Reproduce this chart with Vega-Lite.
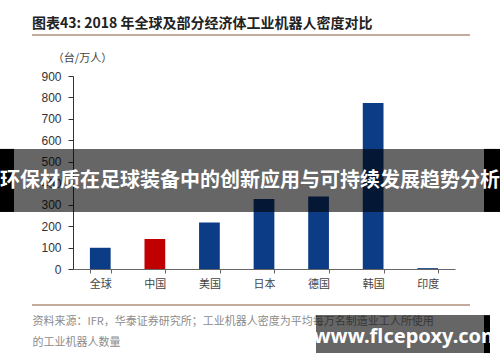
{
  "$schema": "https://vega.github.io/schema/vega-lite/v6.json",
  "autosize": "none",
  "width": 382,
  "height": 193,
  "padding": {"left": 73, "top": 76, "right": 45, "bottom": 93},
  "background": "white",
  "config": {"view": {"stroke": null}},
  "resolve": {"axis": {"y": "independent"}},
  "title": {
    "text": "图表43:   2018 年全球及部分经济体工业机器人密度对比",
    "anchor": "start",
    "frame": "group",
    "dx": -41,
    "offset": 3,
    "font": "Noto Sans CJK SC",
    "fontSize": 14,
    "fontWeight": "bold",
    "color": "#222222"
  },
  "layer": [
    {
      "data": {"values": [
        {"region": "全球", "density": 99},
        {"region": "中国", "density": 140},
        {"region": "美国", "density": 217},
        {"region": "日本", "density": 327},
        {"region": "德国", "density": 338},
        {"region": "韩国", "density": 774},
        {"region": "印度", "density": 4}
      ]},
      "mark": {"type": "bar"},
      "encoding": {
        "x": {
          "field": "region", "type": "nominal", "sort": null,
          "scale": {"paddingInner": 0.62, "paddingOuter": 0.31},
          "axis": {
            "title": ["资料来源：IFR，华泰证券研究所；工业机器人密度为平均每万名制造业工人所使用", "的工业机器人数量"],
            "titleX": -41, "titleY": 52, "titleAlign": "left", "titleBaseline": "middle",
            "titleAnchor": null,
            "titleFont": "Noto Sans CJK SC", "titleFontSize": 11, "titleFontWeight": "normal",
            "titleColor": "#8c8c8c", "titleLineHeight": 21,
            "labelAngle": 0, "labelFont": "Noto Sans CJK SC", "labelFontSize": 11,
            "labelColor": "#444444", "labelPadding": 5,
            "tickBand": "extent", "tickSize": 4, "tickColor": "#666666",
            "domainColor": "#666666", "grid": false
          }
        },
        "y": {
          "field": "density", "type": "quantitative",
          "scale": {"domain": [0, 900], "nice": false},
          "axis": {
            "title": "（台/万人）", "titleAngle": 0, "titleX": 9, "titleY": -18,
            "titleAlign": "center", "titleBaseline": "middle",
            "titleFont": "Noto Sans CJK SC", "titleFontSize": 11, "titleFontWeight": "normal",
            "titleColor": "#444444",
            "values": [0, 100, 200, 300, 400, 500, 600, 700, 800, 900],
            "labelOverlap": false,
            "labelFont": "Liberation Sans", "labelFontSize": 12, "labelColor": "#333333",
            "labelPadding": 7, "tickSize": 5, "tickColor": "#333333",
            "domainColor": "#333333", "grid": false
          }
        },
        "color": {
          "condition": {"test": "datum.region === '中国'", "value": "#c00000"},
          "value": "#0c3c86"
        }
      }
    },
    {
      "data": {"values": [{}]},
      "mark": {"type": "rule", "color": "#b08f7a", "strokeWidth": 1.5},
      "encoding": {
        "x": {"value": -41}, "x2": {"value": 397},
        "y": {"datum": 1091, "type": "quantitative", "axis": null}
      }
    },
    {
      "data": {"values": [{}]},
      "mark": {"type": "rule", "color": "#b08f7a", "strokeWidth": 1.5},
      "encoding": {
        "x": {"value": -41}, "x2": {"value": 397},
        "y": {"datum": -168, "type": "quantitative", "axis": null}
      }
    },
    {
      "data": {"values": [{}]},
      "mark": {"type": "rect", "color": "#000000", "opacity": 0.6},
      "encoding": {
        "x": {"value": -59}, "x2": {"value": 411},
        "y": {"datum": 560, "type": "quantitative", "axis": null}, "y2": {"datum": 266}
      }
    },
    {
      "data": {"values": [{}]},
      "mark": {"type": "rect", "color": "#000000"},
      "encoding": {
        "x": {"value": -73}, "x2": {"value": -59},
        "y": {"datum": 560, "type": "quantitative", "axis": null}, "y2": {"datum": 266}
      }
    },
    {
      "data": {"values": [{}]},
      "mark": {"type": "rect", "color": "#000000"},
      "encoding": {
        "x": {"value": 411}, "x2": {"value": 427},
        "y": {"datum": 560, "type": "quantitative", "axis": null}, "y2": {"datum": 266}
      }
    },
    {
      "data": {"values": [{"label": "环保材质在足球装备中的创新应用与可持续发展趋势分析"}]},
      "mark": {"type": "text", "color": "white", "font": "Noto Sans CJK SC", "fontSize": 20, "fontWeight": "bold", "align": "center", "baseline": "middle"},
      "encoding": {
        "x": {"value": 177},
        "y": {"datum": 410, "type": "quantitative", "axis": null},
        "text": {"field": "label"}
      }
    },
    {
      "data": {"values": [{}]},
      "mark": {"type": "rect", "color": "#000000", "opacity": 0.6},
      "encoding": {
        "x": {"value": 243}, "x2": {"value": 411},
        "y": {"datum": -215, "type": "quantitative", "axis": null}, "y2": {"datum": -392}
      }
    },
    {
      "data": {"values": [{}]},
      "mark": {"type": "rect", "color": "#000000"},
      "encoding": {
        "x": {"value": 411}, "x2": {"value": 417},
        "y": {"datum": -215, "type": "quantitative", "axis": null}, "y2": {"datum": -392}
      }
    },
    {
      "data": {"values": [{"label": "www.flcepoxy.com"}]},
      "mark": {"type": "text", "color": "white", "font": "Noto Sans", "fontSize": 20, "fontWeight": "bold", "align": "center", "baseline": "middle"},
      "encoding": {
        "x": {"value": 334},
        "y": {"datum": -317, "type": "quantitative", "axis": null},
        "text": {"field": "label"}
      }
    }
  ]
}
